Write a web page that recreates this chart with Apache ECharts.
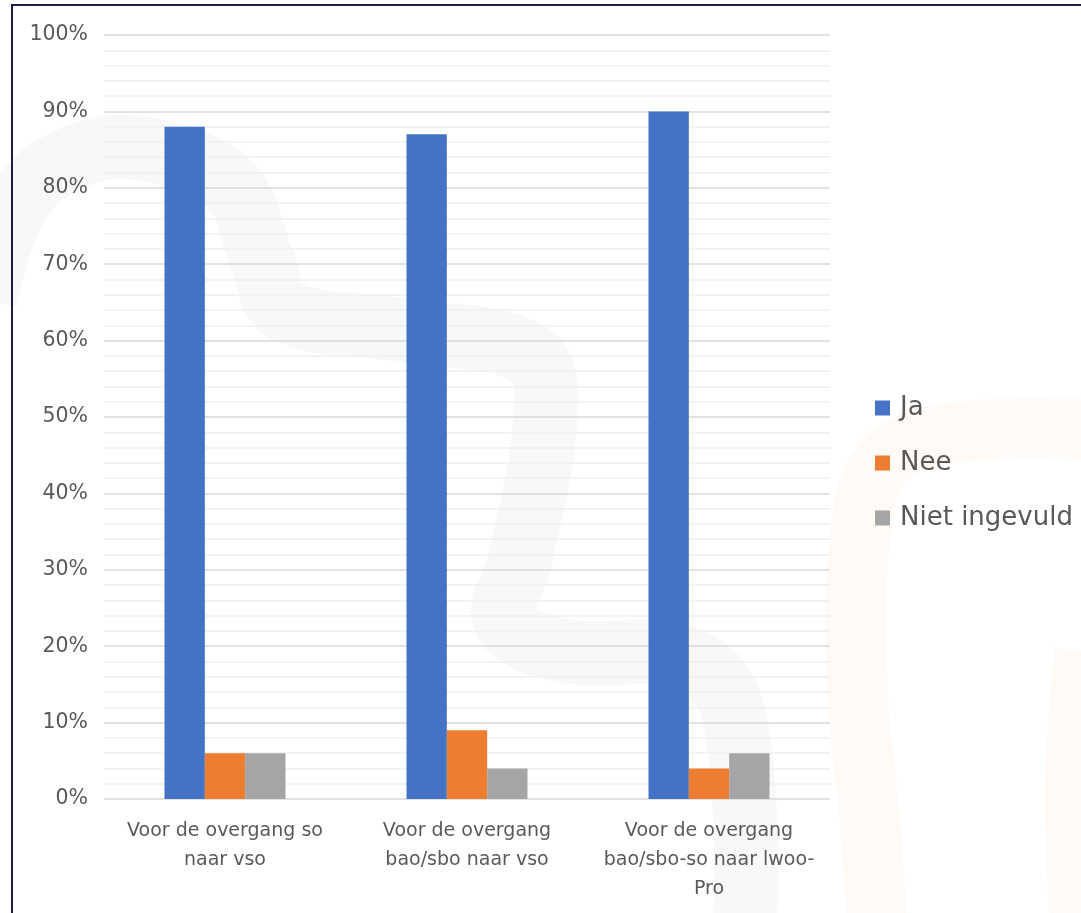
<!DOCTYPE html>
<html>
<head>
<meta charset="utf-8">
<script src="https://cdn.jsdelivr.net/npm/echarts@6/dist/echarts.min.js"></script>
<style>
html,body{margin:0;padding:0;background:#fff;overflow:hidden;}
#chart{position:absolute;left:0;top:0;width:1081px;height:913px;}
#frame{position:absolute;left:11px;top:4px;width:1200px;height:1200px;border-left:2px solid #261a4a;border-top:2px solid #261a4a;pointer-events:none;}
</style>
</head>
<body>
<div id="chart"></div>
<div id="frame"></div>
<script>
const categories = ["Voor de overgang so\nnaar vso", "Voor de overgang\nbao/sbo naar vso", "Voor de overgang\nbao/sbo-so naar lwoo-\nPro"];
const seriesNames = ["Ja", "Nee", "Niet ingevuld"];
const ja = [88, 87, 90];
const nee = [6, 9, 4];
const nietIngevuld = [6, 4, 6];
const yTicks = [0, 10, 20, 30, 40, 50, 60, 70, 80, 90, 100];
const colors = ["#4472c4", "#ed7d31", "#a5a5a5"];

const chart = echarts.init(document.getElementById('chart'));
const font = "DejaVu Sans";
chart.setOption({
  animation: false,
  graphic: [
    {type: 'polyline', z: -10, silent: true,
     shape: {points: [[-15,300],[20,200],[80,155],[150,150],[230,185],[262,260],[285,310],[400,330],[530,355],[545,420],[520,560],[505,620],[560,650],[690,660],[735,720],[745,930]], smooth: 0.4},
     style: {stroke: '#f8f8f9', lineWidth: 64, fill: null, lineJoin: 'round'}},
    {type: 'polyline', z: -10, silent: true,
     shape: {points: [[1100,430],[960,432],[885,460],[860,540],[858,700],[868,800],[878,930]], smooth: 0.4},
     style: {stroke: '#fffaf6', lineWidth: 60, fill: null, lineJoin: 'round'}},
    {type: 'polyline', z: -10, silent: true,
     shape: {points: [[1075,650],[1065,780],[1070,930]], smooth: 0.4},
     style: {stroke: '#fffaf6', lineWidth: 40, fill: null, lineJoin: 'round'}}
  ],
  grid: {left: 104, right: 251, top: 35, bottom: 114, containLabel: false},
  legend: {
    orient: 'vertical', left: 875, top: 395, padding: 0,
    itemWidth: 15, itemHeight: 15, itemGap: 29,
    icon: 'rect',
    data: seriesNames,
    textStyle: {fontFamily: font, fontSize: 26, color: '#595959', lineHeight: 26, padding: [0,0,0,5]}
  },
  xAxis: {
    type: 'category', data: categories,
    axisLine: {show: false}, axisTick: {show: false},
    axisLabel: {fontFamily: font, fontSize: 19, color: '#595959', lineHeight: 29, margin: 18, interval: 0}
  },
  yAxis: {
    type: 'value', min: yTicks[0], max: yTicks[yTicks.length-1], interval: 10,
    axisLine: {show: false}, axisTick: {show: false},
    axisLabel: {fontFamily: font, fontSize: 20.5, color: '#595959', margin: 16, formatter: v => v + '%'},
    splitLine: {lineStyle: {color: '#d9d9d9', width: 1.5}},
    minorTick: {show: false, splitNumber: 5},
    minorSplitLine: {show: true, lineStyle: {color: '#f0f0f0', width: 1.5}}
  },
  series: [
    {name: seriesNames[0], type: 'bar', data: ja, itemStyle: {color: colors[0]}, barGap: '0%', barCategoryGap: '50%'},
    {name: seriesNames[1], type: 'bar', data: nee, itemStyle: {color: colors[1]}, barGap: '0%', barCategoryGap: '50%'},
    {name: seriesNames[2], type: 'bar', data: nietIngevuld, itemStyle: {color: colors[2]}, barGap: '0%', barCategoryGap: '50%'}
  ]
});
</script>
</body>
</html>
